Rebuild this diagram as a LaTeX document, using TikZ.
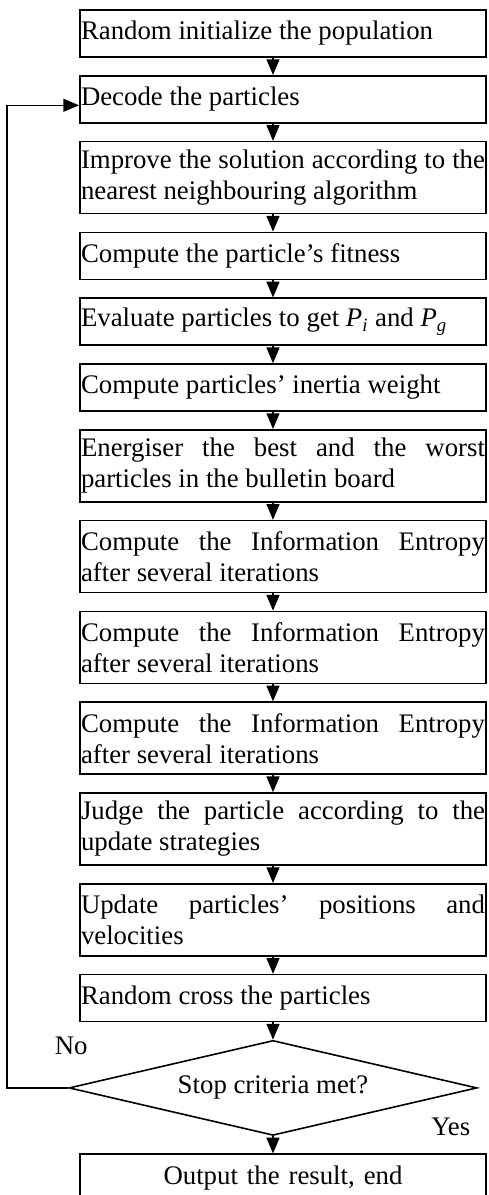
\documentclass[tikz,border=0pt]{standalone}
\usepackage{fontspec}
\setmainfont{Liberation Serif}
\usetikzlibrary{arrows,positioning,shapes.geometric}
\hbadness=10000

\begin{document}
\begin{tikzpicture}[>=triangle 45,node distance=8.6pt,
  main node/.style={rectangle,draw,line width=0.8pt,text width=202pt,inner xsep=0.6pt,
    inner ysep=2pt,minimum height=23.5pt,align=justify,font=\fontsize{13.4}{15.5}\selectfont},
  long node/.style={main node,minimum height=36pt},
  end node/.style={main node,align=center},
  test node/.style={diamond,draw,line width=0.8pt,aspect=4.3,minimum width=204pt,
    minimum height=47.5pt,inner sep=0pt,font=\fontsize{13.4}{15.5}\selectfont},
  label node/.style={font=\fontsize{13.4}{15.5}\selectfont}]
  \useasboundingbox (0,0) rectangle (244pt,-597.5pt);

  \node[main node] (1) at (141.5pt,-16.75pt) {Random initialize the population};
  \node[main node] (2) [below=of 1] {Decode the particles};
  \node[long node] (3) [below=of 2] {Improve the solution according to the\linebreak nearest neighbouring algorithm};
  \node[main node] (4) [below=of 3] {Compute the particle's fitness};
  \node[main node] (5) [below=of 4] {Evaluate particles to get \textit{P}\textsubscript{\textit{i}} and \textit{P}\textsubscript{\textit{g}}};
  \node[main node] (6) [below=of 5] {Compute particles' inertia weight};
  \node[long node] (7) [below=of 6] {Energiser the best and the worst\linebreak particles in the bulletin board};
  \node[long node] (8) [below=of 7] {Compute the Information Entropy\linebreak after several iterations};
  \node[long node] (9) [below=of 8] {Compute the Information Entropy\linebreak after several iterations};
  \node[long node] (10) [below=of 9] {Compute the Information Entropy\linebreak after several iterations};
  \node[long node] (11) [below=of 10] {Judge the particle according to the\linebreak update strategies};
  \node[long node] (12) [below=of 11] {Update particles' positions and\linebreak velocities};
  \node[main node] (13) [below=of 12] {Random cross the particles};
  \node[test node] (14) [below=of 13, xshift=-5pt] {Stop criteria met?};
  \node[end node] (15) [below=of 14, xshift=5pt] {Output the result, end};

  \node[label node] (no) at ([xshift=1.5pt,yshift=21pt]14.west) {No};
  \node[label node] (yes) at ([xshift=-13.5pt,yshift=-19.5pt]14.east) {Yes};

  \path[->,line width=0.8pt]
    ([xshift=-5pt]1.south) edge ([xshift=-5pt]2.north)
    ([xshift=-5pt]2.south) edge ([xshift=-5pt]3.north)
    ([xshift=-5pt]3.south) edge ([xshift=-5pt]4.north)
    ([xshift=-5pt]4.south) edge ([xshift=-5pt]5.north)
    ([xshift=-5pt]5.south) edge ([xshift=-5pt]6.north)
    ([xshift=-5pt]6.south) edge ([xshift=-5pt]7.north)
    ([xshift=-5pt]7.south) edge ([xshift=-5pt]8.north)
    ([xshift=-5pt]8.south) edge ([xshift=-5pt]9.north)
    ([xshift=-5pt]9.south) edge ([xshift=-5pt]10.north)
    ([xshift=-5pt]10.south) edge ([xshift=-5pt]11.north)
    ([xshift=-5pt]11.south) edge ([xshift=-5pt]12.north)
    ([xshift=-5pt]12.south) edge ([xshift=-5pt]13.north)
    ([xshift=-5pt]13.south) edge (14.north)
    (14.south) edge ([xshift=-5pt]15.north);

  \draw[->,line width=0.8pt] (14.west) -- ++(-30.5pt,0) |- ([yshift=-3pt]2.west);
\end{tikzpicture}
\end{document}
